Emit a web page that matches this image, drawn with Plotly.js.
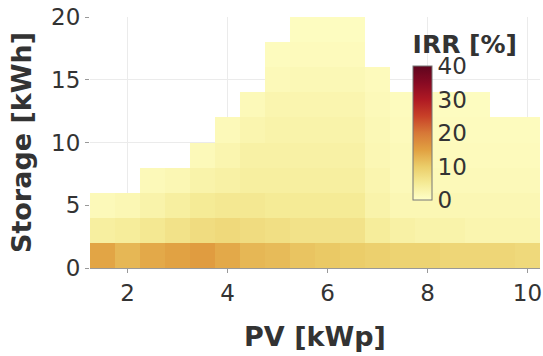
<!DOCTYPE html>
<html>
<head>
<meta charset="utf-8">
<script src="https://cdn.plot.ly/plotly-3.0.1.min.js"></script>
<style>html,body{margin:0;padding:0;background:#fff;}#chart{width:543px;height:356px;}</style>
</head>
<body>
<div id="chart"></div>
<script>
// PV size [kWp] (cell centres)
const pv = [1.5, 2.0, 2.5, 3.0, 3.5, 4.0, 4.5, 5.0, 5.5, 6.0, 6.5, 7.0, 7.5, 8.0, 8.5, 9.0, 9.5, 10.0];
// Storage size [kWh] (cell centres)
const storage = [1, 3, 5, 7, 9, 11, 13, 15, 17, 19];
// IRR [%] per storage row (null = not simulated)
const n = null;
const irr_s1  = [14.5, 12.5, 14, 14.8, 15.5, 14, 12.5, 12, 11, 10.5, 10, 9.5, 9, 9, 8.5, 8.5, 8.5, 8];
const irr_s3  = [4, 4.5, 5.5, 6.5, 7.5, 8, 7.5, 7, 6.5, 6.5, 6.5, 4.5, 3.5, 3, 3, 2.5, 2.5, 2.5];
const irr_s5  = [1.5, 2, 3, 4, 5, 5.5, 5.5, 5, 5, 5, 5, 3, 2, 2, 2, 2, 2, 2];
const irr_s7  = [n, n, 1.5, 2, 3, 3.5, 4, 4, 4, 4, 4, 2.5, 1.5, 1.5, 1.5, 1.5, 1.5, 1.5];
const irr_s9  = [n, n, n, n, 1.5, 2.5, 3.5, 3.5, 3.5, 3.5, 3.5, 2, 1.5, 1.2, 1.2, 1.2, 1.2, 1.2];
const irr_s11 = [n, n, n, n, n, 1.5, 2.5, 3, 3, 3, 3, 1.8, 1.2, 1, 1, 1, 1, 1];
const irr_s13 = [n, n, n, n, n, n, 1.5, 2.5, 2.5, 2.5, 2.5, 1.5, 1, 0.8, 0.8, 0.8, n, n];
const irr_s15 = [n, n, n, n, n, n, n, 1.5, 1.8, 1.8, 1.8, 1.2, n, n, n, n, n, n];
const irr_s17 = [n, n, n, n, n, n, n, 1, 1.2, 1.2, 1.2, n, n, n, n, n, n, n];
const irr_s19 = [n, n, n, n, n, n, n, n, 0.8, 0.8, 0.8, n, n, n, n, n, n, n];
const irr = [irr_s1, irr_s3, irr_s5, irr_s7, irr_s9, irr_s11, irr_s13, irr_s15, irr_s17, irr_s19];
const xTicks = [2, 4, 6, 8, 10];
const yTicks = [0, 5, 10, 15, 20];
const cbTicks = [0, 10, 20, 30, 40];

const scale = [
  [0.0, 'rgb(255,255,200)'],
  [0.125, 'rgb(245,235,150)'],
  [0.25, 'rgb(235,205,105)'],
  [0.375, 'rgb(225,160,65)'],
  [0.5, 'rgb(215,120,55)'],
  [0.625, 'rgb(200,65,40)'],
  [0.75, 'rgb(175,25,35)'],
  [0.875, 'rgb(135,10,35)'],
  [1.0, 'rgb(95,5,30)']
];

const font = 'DejaVu Sans, Verdana, sans-serif';
const trace = {
  type: 'heatmap', x: pv, y: storage, z: irr,
  zmin: 0, zmax: 40, colorscale: scale, hoverongaps: false,
  colorbar: {
    x: 0.718, xanchor: 'left', xpad: 0, y: 0.271, yanchor: 'bottom', ypad: 0,
    len: 0.67, lenmode: 'fraction', thickness: 19,
    outlinecolor: '#777', outlinewidth: 1,
    tickvals: cbTicks, ticktext: cbTicks.map(String), ticks: '',
    tickfont: {family: font, size: 23, color: '#333'},
    title: {text: '<b>IRR [%]</b>', side: 'top', font: {family: font, size: 25, color: '#333'}},
    bgcolor: 'rgba(0,0,0,0)'
  }
};
const layout = {
  width: 543, height: 356,
  margin: {l: 90, r: 3, t: 17, b: 88},
  paper_bgcolor: '#fff', plot_bgcolor: '#fff',
  font: {family: font, color: '#333'},
  xaxis: {
    range: [1.25, 10.25], tickvals: xTicks, ticktext: xTicks.map(String),
    showgrid: true, gridcolor: '#ebebeb', zeroline: false,
    showline: true, linecolor: '#999', linewidth: 1,
    ticks: 'outside', ticklen: 4, tickcolor: '#999',
    tickfont: {family: font, size: 23, color: '#333'},
    title: {text: '<b>PV [kWp]</b>', font: {family: font, size: 27, color: '#333'}, standoff: 22}
  },
  yaxis: {
    range: [0, 20], tickvals: yTicks, ticktext: yTicks.map(String),
    showgrid: true, gridcolor: '#ebebeb', zeroline: false,
    showline: false,
    ticks: 'outside', ticklen: 4, tickcolor: '#999',
    tickfont: {family: font, size: 23, color: '#333'},
    title: {text: '<b>Storage [kWh]</b>', font: {family: font, size: 27, color: '#333'}, standoff: 11}
  }
};
Plotly.newPlot('chart', [trace], layout, {displayModeBar: false, staticPlot: true});
</script>
</body>
</html>
